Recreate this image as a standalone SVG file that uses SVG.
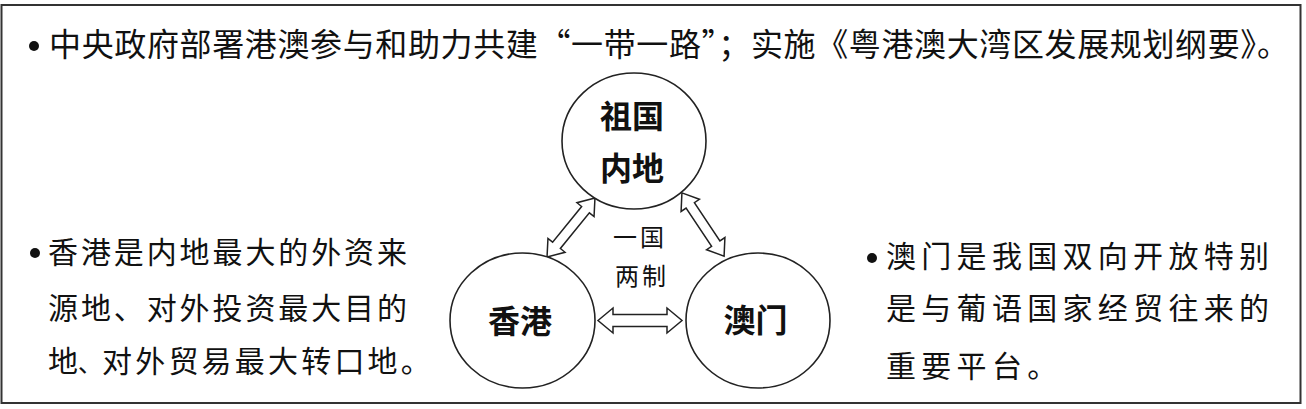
<svg xmlns="http://www.w3.org/2000/svg" width="1306" height="409" viewBox="0 0 1306 409">
<style>
.t{font-family:"Noto Sans CJK SC","Noto Sans CJK TC",sans-serif;fill:#111;}
.body{font-size:30px;font-weight:400;}
.node{font-size:32px;font-weight:700;}
.mid{font-size:24px;font-weight:400;}
.ring{fill:#fff;stroke:#222;stroke-width:1.6;}
.arr{fill:#fff;stroke:#222;stroke-width:1.5;stroke-linejoin:miter;}
.dot{fill:#111;}
</style>
<rect x="0" y="0" width="1306" height="409" fill="#fff"/>
<rect x="1.5" y="5" width="1299" height="398" fill="none" stroke="#333" stroke-width="2"/>

<g id="top-note">
<circle class="dot" cx="34" cy="46" r="5"/>
<text class="t" x="49" y="56" font-size="32" textLength="1240" lengthAdjust="spacing">中央政府部署港澳参与和助力共建“一带一路”；实施《粤港澳大湾区发展规划纲要》。</text>
</g>

<g id="hk-note">
<circle class="dot" cx="35" cy="253" r="5"/>
<text class="t body" y="263" letter-spacing="2.9"><tspan x="48">香港是内地最大的外资来</tspan></text>
<text class="t body" y="319" letter-spacing="2.9"><tspan x="48">源地、对外投资最大目的</tspan></text>
<text class="t body" y="372"><tspan x="48">地</tspan><tspan x="78" font-size="24">、</tspan><tspan x="102" letter-spacing="3.2">对外贸易最大转口地。</tspan></text>
</g>

<g id="mo-note">
<circle class="dot" cx="872" cy="258" r="5"/>
<text class="t body" x="886" y="267" letter-spacing="5.3">澳门是我国双向开放特别</text>
<text class="t body" x="886" y="319" letter-spacing="5.3">是与葡语国家经贸往来的</text>
<text class="t body" x="886" y="377" letter-spacing="5.3">重要平台。</text>
</g>

<g id="connectors">
<polygon class="arr" transform="translate(640 320.5)" points="-42,0 -27,-12.5 -27,-6 27,-6 27,-12.5 42,0 27,12.5 27,6 -27,6 -27,12.5"/>
<polygon class="arr" transform="translate(571 227.5) rotate(-50.9)" points="-38,0 -23,-11 -23,-5 23,-5 23,-11 38,0 23,11 23,5 -23,5 -23,11"/>
<polygon class="arr" transform="translate(703 224.5) rotate(56.3)" points="-38,0 -23,-11 -23,-5 23,-5 23,-11 38,0 23,11 23,5 -23,5 -23,11"/>
</g>

<g id="mainland">
<ellipse class="ring" cx="634" cy="141" rx="72" ry="68"/>
<text class="t node" x="632" y="128" text-anchor="middle">祖国</text>
<text class="t node" x="632" y="180" text-anchor="middle">内地</text>
</g>

<g id="hongkong">
<ellipse class="ring" cx="522.5" cy="320.5" rx="72.5" ry="67.5"/>
<text class="t node" x="520" y="333" text-anchor="middle">香港</text>
</g>

<g id="macau">
<ellipse class="ring" cx="758" cy="320.5" rx="72" ry="67.5"/>
<text class="t node" x="755.5" y="332" text-anchor="middle">澳门</text>
</g>

<g id="label-1c2s">
<text class="t mid" x="640" y="246" text-anchor="middle" letter-spacing="3">一国</text>
<text class="t mid" x="642" y="285" text-anchor="middle" letter-spacing="3">两制</text>
</g>
</svg>
